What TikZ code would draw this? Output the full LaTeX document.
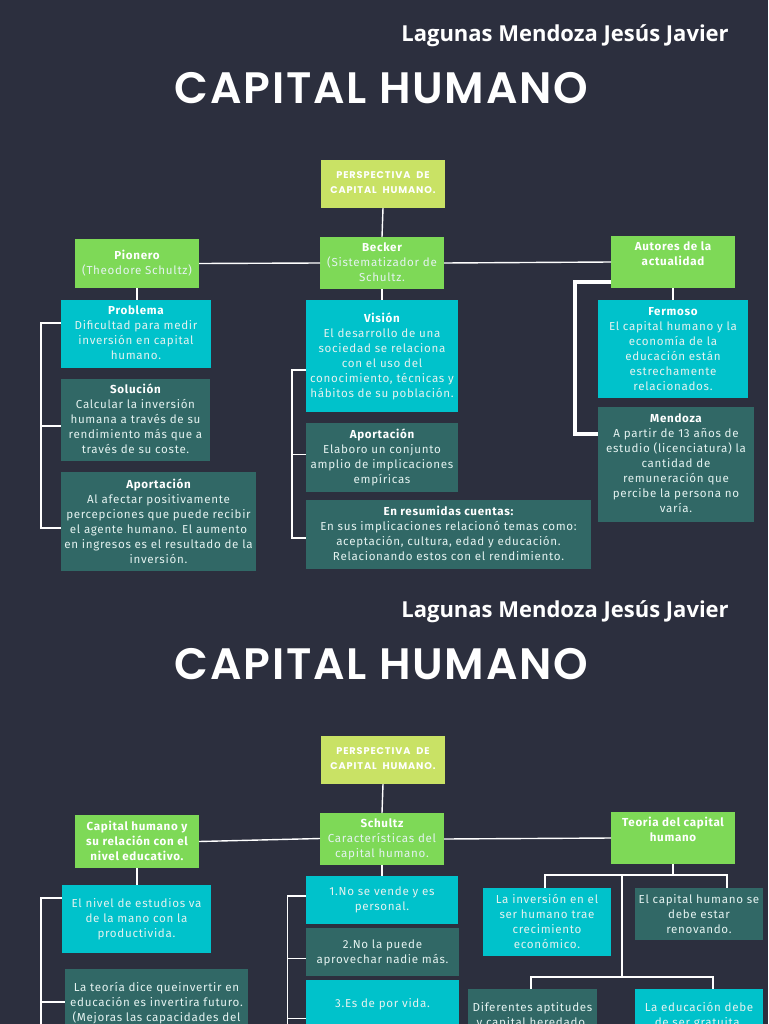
\documentclass[tikz,border=0pt]{standalone}
\usepackage{fontspec}
\setmainfont{Fira Sans}[LetterSpace=6]
\newfontfamily\titlefont{Poppins SemiBold}[LetterSpace=4]
\newfontfamily\namefont{Open Sans}
\newfontfamily\headfont{Poppins}[LetterSpace=9,WordSpace=2]
\definecolor{bgc}{HTML}{2C2F3E}
\definecolor{limec}{HTML}{C9E265}
\definecolor{greenc}{HTML}{7ED957}
\definecolor{cyanc}{HTML}{00C2CB}
\definecolor{tealc}{HTML}{316866}
\definecolor{softc}{HTML}{E4F2F0}
\newlength\boxw
\newlength\boxh
% \bx{style}{name}{x0}{y0}{x1}{y1}{top pad px}{text}
\newcommand{\bx}[8]{%
  \pgfmathsetlength\boxw{(#5-#3)*0.75pt}%
  \pgfmathsetlength\boxh{(#6-#4)*0.75pt}%
  \node[#1,anchor=north west] (#2) at (#3,#4) {\parbox[c][\boxh][t]{\boxw}{\centering\vspace*{#7\dimexpr0.75pt\relax}\strut #8\strut}};}
\tikzset{
  x=0.75pt,y=-0.75pt,
  base/.style={inner sep=0pt,outer sep=0pt,text=softc,font=\fontsize{8.7}{11.25}\selectfont},
  limebox/.style={base,fill=limec,text=white,font=\fontsize{7.3}{11.25}\selectfont\headfont\bfseries},
  greenbox/.style={base,fill=greenc},
  cyanbox/.style={base,fill=cyanc},
  tealbox/.style={base,fill=tealc},
  wire/.style={draw=white,line width=1.05pt},
  wirethin/.style={draw=white,line width=0.85pt},
  wiremid/.style={draw=white,line width=1.1pt},
  wirethick/.style={draw=white,line width=1.9pt},
  wireheavy/.style={draw=white,line width=3pt},
  nametext/.style={inner sep=0pt,text=white,font=\fontsize{16.5}{20}\selectfont\namefont\bfseries},
  titletext/.style={inner sep=0pt,text=white,font=\fontsize{33}{36}\selectfont\titlefont},
}
\newcommand{\hd}[1]{\textbf{\textcolor{white}{#1}}}
\begin{document}
\begin{tikzpicture}
\useasboundingbox (0,0) rectangle (768,1024);
\clip (0,0) rectangle (768,1024);
\fill[bgc] (0,0) rectangle (768,1024);
% ---------- page 1
\node[nametext,anchor=east] (nameA) at (729,36) {Lagunas Mendoza Jesús Javier};
\node[titletext] (titleA) at (381.5,88) {CAPITAL HUMANO};
\bx{limebox}{persA}{321}{160}{445}{208}{7.5}{PERSPECTIVA DE\\CAPITAL HUMANO.}
\bx{greenbox}{becker}{320}{237}{444}{289}{3.5}{\hd{Becker}\\(Sistematizador de\\Schultz.}
\bx{greenbox}{pionero}{75}{239}{199}{288}{9.5}{\hd{Pionero}\\(Theodore Schultz)}
\bx{greenbox}{autores}{611}{236}{735}{288}{4}{\hd{Autores de la}\\\hd{actualidad}}
\bx{cyanbox}{problema}{61}{300}{211}{368}{3.5}{\hd{Problema}\\Dificultad para medir\\inversión en capital\\humano.}
\bx{tealbox}{solucion}{61}{379}{210}{461}{3.5}{\hd{Solución}\\Calcular la inversión\\humana a través de su\\rendimiento más que a\\través de su coste.}
\bx{tealbox}{aportA}{61}{472}{256}{571}{5.5}{\hd{Aportación}\\Al afectar positivamente\\percepciones que puede recibir\\el agente humano. El aumento\\en ingresos es el resultado de la\\inversión.}
\bx{cyanbox}{vision}{306}{300}{458}{412}{11.5}{\hd{Visión}\\El desarrollo de una\\sociedad se relaciona\\con el uso del\\conocimiento, técnicas y\\hábitos de su población.}
\bx{tealbox}{aportB}{306}{423}{458}{492}{4.5}{\hd{Aportación}\\Elaboro un conjunto\\amplio de implicaciones\\empíricas}
\bx{tealbox}{resumen}{306}{500}{591}{569}{4.5}{\hd{En resumidas cuentas:}\\En sus implicaciones relacionó temas como:\\aceptación, cultura, edad y educación.\\Relacionando estos con el rendimiento.}
\bx{cyanbox}{fermoso}{598}{300}{748}{398}{4.5}{\hd{Fermoso}\\El capital humano y la\\economía de la\\educación están\\estrechamente\\relacionados.}
\bx{tealbox}{mendoza}{598}{407}{754}{522}{4.5}{\hd{Mendoza}\\A partir de 13 años de\\estudio (licenciatura) la\\cantidad de\\remuneración que\\percibe la persona no\\varía.}
% connectors
\draw[wire] (persA.south) -- (becker.north);
\draw[wire] (pionero.east) -- (becker.west);
\draw[wire] (becker.east) -- (autores.west);
\draw[wire] (pionero.south) -- (problema.north -| pionero.south);
\draw[wire] (becker.south) -- (vision.north -| becker.south);
\draw[wire] (autores.south) -- (fermoso.north -| autores.south);
\coordinate (ba) at (41,0);
\draw[wirethick] (problema.west |- 0,323) -| (ba |- 0,528) -- (aportA.west |- 0,528);
\draw[wirethick] (ba |- 0,426) -- (solucion.west |- 0,426);
\coordinate (bv) at (292,0);
\draw[wiremid] (vision.west |- 0,370) -| (bv |- 0,538) -- (resumen.west |- 0,538);
\draw[wiremid] (bv |- 0,454.5) -- (aportB.west |- 0,454.5);
\coordinate (bm) at (574.5,0);
\draw[wireheavy] (autores.west |- 0,282) -| (bm |- 0,434) -- (mendoza.west |- 0,434);
% ---------- page 2
\node[nametext,anchor=east] (nameB) at (729,612) {Lagunas Mendoza Jesús Javier};
\node[titletext] (titleB) at (381.5,664) {CAPITAL HUMANO};
\bx{limebox}{persB}{321}{736}{445}{784}{7.5}{PERSPECTIVA DE\\CAPITAL HUMANO.}
\bx{greenbox}{schultz}{320}{813}{444}{865}{3.5}{\hd{Schultz}\\Características del\\capital humano.}
\bx{greenbox}{relacion}{75}{815}{199}{868}{4.5}{\hd{Capital humano y}\\\hd{su relación con el}\\\hd{nivel educativo.}}
\bx{greenbox}{teoria}{611}{812}{735}{864}{3.5}{\hd{Teoria del capital}\\\hd{humano}}
\bx{cyanbox}{nivel}{62}{885}{211}{953}{11.5}{El nivel de estudios va\\de la mano con la\\productivida.}
\bx{tealbox}{dice}{65}{969}{248}{1060}{11.5}{La teoría dice queinvertir en\\educación es invertira futuro.\\(Mejoras las capacidades del}
\bx{cyanbox}{uno}{306}{876}{458}{924}{8.5}{1.No se vende y es\\personal.}
\bx{tealbox}{dos}{306}{928}{459}{976}{9.5}{2.No la puede\\aprovechar nadie más.}
\bx{cyanbox}{tres}{306}{980}{459}{1060}{16.5}{3.Es de por vida.}
\bx{cyanbox}{inversion}{483}{888}{611}{956}{4.5}{La inversión en el\\ser humano trae\\crecimiento\\económico.}
\bx{tealbox}{renov}{635}{888}{763}{940}{4.5}{El capital humano se\\debe estar\\renovando.}
\bx{tealbox}{aptitud}{468}{989}{597}{1060}{11.5}{Diferentes aptitudes\\y capital heredado.}
\bx{cyanbox}{gratuita}{635}{989}{763}{1060}{11.5}{La educación debe\\de ser gratuita.}
% connectors
\draw[wire] (persB.south) -- (schultz.north);
\draw[wire] (relacion.east |- 0,841.5) -- (schultz.west |- 0,838.5);
\draw[wire] (schultz.east |- 0,839) -- (teoria.west |- 0,838);
\draw[wire] (relacion.south) -- (nivel.north -| relacion.south);
\draw[wire] (schultz.south) -- (uno.north -| schultz.south);
\draw[wirethick] (teoria.south) -- ++(0,11) coordinate (tj);
\coordinate (hi) at (622,875.5);
\draw[wire] (inversion.north -| 545,0) |- (tj) -| (renov.north -| 727,0);
\coordinate (hj) at (622,977);
\draw[wire] (hi) -- (hj);
\draw[wire] (aptitud.north -| 531,0) |- (hj) -| (gratuita.north -| 713,0);
\coordinate (bl) at (41,0);
\draw[wirethick] (nivel.west |- 0,898) -| (bl |- 0,1040);
\draw[wirethick] (bl |- 0,1002) -- (dice.west |- 0,1002);
\coordinate (bs) at (287.5,0);
\draw[wirethin] (uno.west |- 0,896) -| (bs |- 0,1040);
\draw[wirethin] (bs |- 0,958.5) -- (dos.west |- 0,958.5);
\draw[wirethin] (bs |- 0,1018.5) -- (tres.west |- 0,1018.5);
\end{tikzpicture}
\end{document}
